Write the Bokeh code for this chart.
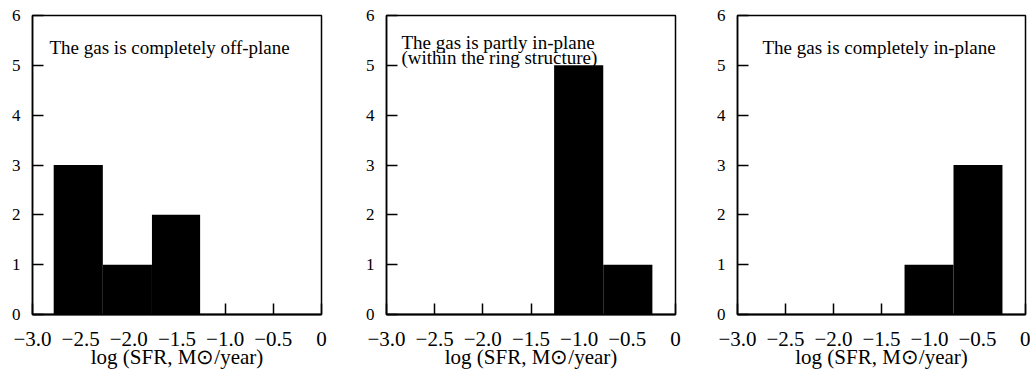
from bokeh.plotting import figure
from bokeh.layouts import row
from bokeh.models import FixedTicker, Label, Range1d
from bokeh.embed import file_html
from bokeh.resources import INLINE

# ---- data ----
bin_edges = [-2.78, -2.27, -1.76, -1.26, -0.75, -0.24]
counts_off_plane = [3, 1, 2, 0, 0]
counts_partly_in_plane = [0, 0, 0, 5, 1]
counts_in_plane = [0, 0, 0, 1, 3]
panel_texts = [
    ["The gas is completely off-plane"],
    ["The gas is partly in-plane", "(within the ring structure)"],
    ["The gas is completely in-plane"],
]
x_title = "log (SFR, M\u2299/year)"
x_ticks = [-3.0, -2.5, -2.0, -1.5, -1.0, -0.5, 0.0]
x_tick_labels = ["\u22123.0", "\u22122.5", "\u22122.0", "\u22121.5", "\u22121.0", "\u22120.5", "0"]
y_ticks = [0, 1, 2, 3, 4, 5, 6]
y_tick_labels = ["0", "1", "2", "3", "4", "5", "6"]

SERIF = "Liberation Serif"
FRAME_H = 299
TOP, BOTTOM = 15, 61


def make_panel(counts, lines, text_dx, baselines, border_left, frame_w, border_right):
    p = figure(
        output_backend="svg", toolbar_location=None,
        width=border_left + frame_w + border_right, height=TOP + FRAME_H + BOTTOM,
        x_range=Range1d(-3.0, 0.0), y_range=Range1d(0, 6),
        min_border_left=border_left, min_border_right=border_right,
        min_border_top=TOP, min_border_bottom=BOTTOM,
        background_fill_color="white", border_fill_color="white",
    )
    p.xgrid.visible = False
    p.ygrid.visible = False
    p.outline_line_color = "black"
    p.outline_line_width = 1.5

    p.quad(left=bin_edges[:-1], right=bin_edges[1:], bottom=0, top=counts,
           fill_color="black", line_color=None)

    xa = p.xaxis[0]
    xa.ticker = FixedTicker(ticks=x_ticks)
    xa.major_label_overrides = {t: s for t, s in zip(x_ticks, x_tick_labels)}
    xa.minor_tick_line_color = None
    xa.major_tick_in = 11
    xa.major_tick_out = 0
    xa.major_tick_line_width = 1.5
    xa.axis_line_width = 2
    xa.major_label_standoff = 17
    xa.major_label_text_font = SERIF
    xa.major_label_text_font_size = "21px"
    xa.major_label_text_color = "black"
    xa.axis_label = x_title
    xa.axis_label_text_font = SERIF
    xa.axis_label_text_font_size = "21px"
    xa.axis_label_text_font_style = "normal"
    xa.axis_label_text_color = "black"
    xa.axis_label_standoff = -4

    ya = p.yaxis[0]
    ya.ticker = FixedTicker(ticks=y_ticks)
    ya.major_label_overrides = {t: s for t, s in zip(y_ticks, y_tick_labels)}
    ya.minor_tick_line_color = None
    ya.major_tick_in = 11
    ya.major_tick_out = 0
    ya.major_tick_line_width = 1.5
    ya.axis_line_width = 1.5
    ya.major_label_standoff = 12
    ya.major_label_text_font = SERIF
    ya.major_label_text_font_size = "17px"
    ya.major_label_text_color = "black"

    # panel description text
    for line, base in zip(lines, baselines):
        p.add_layout(Label(x=-3.0, y=6, x_offset=text_dx, y_offset=-base, text=line,
                           text_font=SERIF, text_font_size="19px", text_color="black",
                           text_align="left", text_baseline="alphabetic"))
    return p


p1 = make_panel(counts_off_plane, panel_texts[0], 17, [31.7], 32, 289, 41)
p2 = make_panel(counts_partly_in_plane, panel_texts[1], 15, [26.5, 41.5], 24, 289, 38)
p3 = make_panel(counts_in_plane, panel_texts[2], 25, [31.7], 24, 288, 5)

layout = row(p1, p2, p3, spacing=0)

open("out.html", "w").write(file_html(layout, INLINE))
